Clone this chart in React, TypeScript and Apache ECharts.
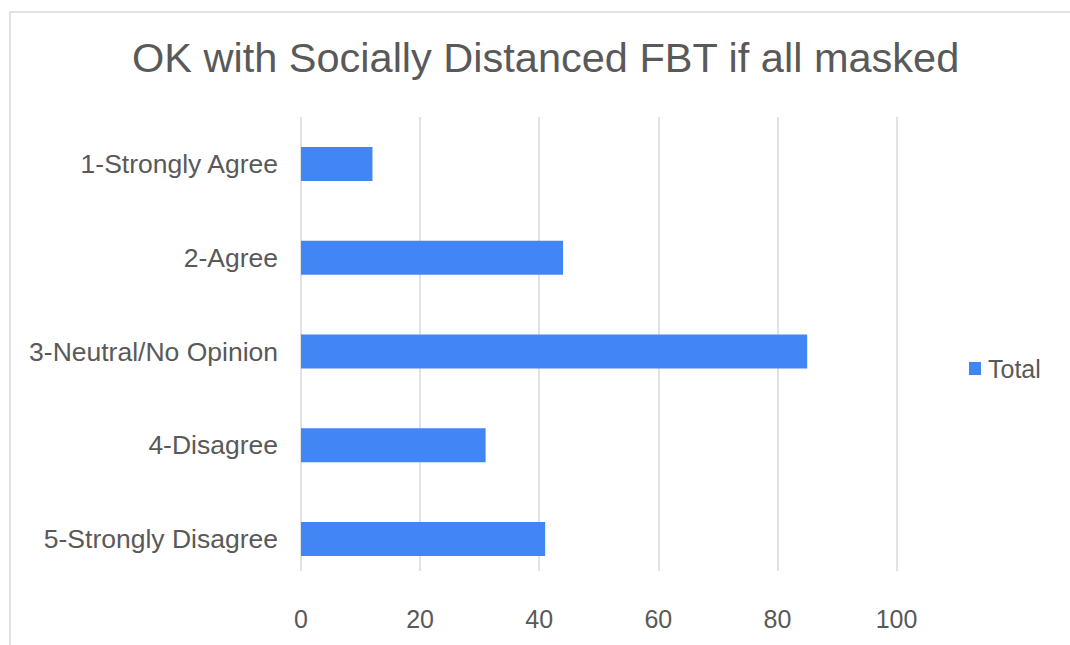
import React, { useEffect, useRef } from "react";
import * as echarts from "echarts";

const categories = [
  "1-Strongly Agree",
  "2-Agree",
  "3-Neutral/No Opinion",
  "4-Disagree",
  "5-Strongly Disagree",
];
const totals = [12, 44, 85, 31, 41];
const xTicks = [0, 20, 40, 60, 80, 100];
const titleText = "OK with Socially Distanced FBT if all masked";
const seriesName = "Total";

export default function App() {
  const ref = useRef<HTMLDivElement>(null);
  useEffect(() => {
    if (!ref.current) return;
    const chart = echarts.init(ref.current, undefined, { renderer: "svg" });
    const font = "'Liberation Sans', Arial, sans-serif";
    const textColor = "#595959";
    const gridColor = "#D9D9D9";
    chart.setOption({
      animation: false,
      backgroundColor: "#ffffff",
      textStyle: { fontFamily: font },
      title: {
        text: titleText,
        left: 127,
        top: 31,
        textStyle: { fontFamily: font, fontSize: 41.5, fontWeight: "normal", color: textColor },
      },
      legend: {
        data: [seriesName],
        orient: "vertical",
        left: 964,
        top: 351,
        itemWidth: 12,
        itemHeight: 13,
        itemGap: 10,
        icon: "rect",
        textStyle: { fontFamily: font, fontSize: 25, color: textColor, padding: [0, 0, 0, 2] },
      },
      graphic: [
        {
          type: "rect",
          shape: { x: 10, y: 12, width: 1100, height: 700 },
          style: { fill: "none", stroke: gridColor, lineWidth: 1.5 },
          silent: true,
          z: -10,
        },
      ],
      grid: [
        { left: 301, width: 595.5, top: 117, height: 454, containLabel: false },
        { left: 301, width: 595.5, top: 117, height: 469, containLabel: false },
      ],
      xAxis: [
        {
          type: "value",
          gridIndex: 0,
          min: xTicks[0],
          max: xTicks[xTicks.length - 1],
          interval: 20,
          axisLine: { show: false },
          axisTick: { show: false },
          axisLabel: { show: false },
          splitLine: { show: true, lineStyle: { color: gridColor, width: 1.5 } },
        },
        {
          type: "value",
          gridIndex: 1,
          min: xTicks[0],
          max: xTicks[xTicks.length - 1],
          interval: 20,
          axisLine: { show: false },
          axisTick: { show: false },
          splitLine: { show: false },
          axisLabel: { fontFamily: font, fontSize: 25, color: textColor, margin: 20 },
        },
      ],
      yAxis: [
        {
          type: "category",
          gridIndex: 0,
          data: categories,
          inverse: true,
          show: false,
        },
        {
          type: "category",
          gridIndex: 1,
          data: categories,
          inverse: true,
          axisLine: { show: false },
          axisTick: { show: false },
          splitLine: { show: false },
          axisLabel: { fontFamily: font, fontSize: 26.5, color: textColor, margin: 23 },
        },
      ],
      series: [
        {
          name: seriesName,
          type: "bar",
          xAxisIndex: 1,
          yAxisIndex: 1,
          data: totals,
          barWidth: 34,
          itemStyle: { color: "#4285F4" },
        },
      ],
    });
    return () => chart.dispose();
  }, []);
  return (
    <div
      ref={ref}
      style={{ position: "absolute", left: 0, top: 0, width: 1070, height: 645 }}
    />
  );
}
